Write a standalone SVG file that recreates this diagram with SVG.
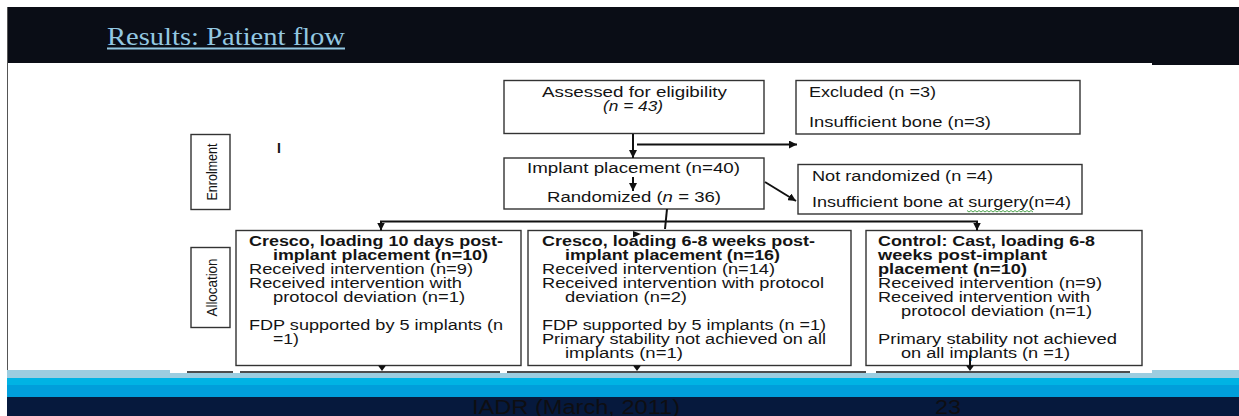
<svg xmlns="http://www.w3.org/2000/svg" width="1239" height="416" viewBox="0 0 1239 416">
<defs>
<style>
.t{font-family:"Liberation Sans",Arial,sans-serif;font-size:14px;fill:#141414}
.b{font-weight:bold}
.i{font-style:italic}
.box{fill:#fff;stroke:#333;stroke-width:1.4}
.lab{font-family:"Liberation Sans",Arial,sans-serif;font-size:15px;fill:#141414}
.c{stroke:#111;stroke-width:2;fill:none}
.h{fill:#111}
.ft{font-family:"Liberation Sans",Arial,sans-serif;font-size:20px;fill:#0e0e12}
</style>
<marker id="ah" viewBox="0 0 10 10" refX="10" refY="5" markerWidth="8" markerHeight="8" markerUnits="userSpaceOnUse" orient="auto">
<path d="M0,0 L10,5 L0,10 z" fill="#111"/>
</marker>
</defs>
<!-- slide background -->
<rect x="0" y="0" width="1239" height="416" fill="#fff"/>
<rect x="7" y="7" width="1232" height="56" fill="#0a0d16"/>
<rect x="1152" y="63" width="87" height="2" fill="#0a0d16"/>
<line x1="7.5" y1="7" x2="7.5" y2="416" stroke="#555" stroke-width="1"/>
<text x="107" y="45" font-family="Liberation Serif, serif" font-size="26" fill="#93c8e2" textLength="238" lengthAdjust="spacingAndGlyphs">Results: Patient flow</text>
<line x1="107" y1="48.5" x2="345" y2="48.5" stroke="#93c8e2" stroke-width="1.8"/>
<!-- bottom bands -->
<rect x="7" y="370" width="1232" height="8" fill="#9ccde0"/>
<rect x="170" y="360" width="982" height="13" fill="#fff"/>
<rect x="7" y="378" width="1232" height="7" fill="#00b3e4"/>
<rect x="7" y="385" width="1232" height="12" fill="#009edb"/>
<rect x="7" y="397" width="1232" height="19" fill="#06193d"/>
<text class="ft" x="472" y="414" textLength="208" lengthAdjust="spacingAndGlyphs">IADR (March, 2011)</text>
<text class="ft" x="935" y="414" textLength="26" lengthAdjust="spacingAndGlyphs">23</text>

<!-- stage labels -->
<g id="enrolment">
<rect class="box" x="191" y="134.5" width="39" height="75"/>
<text class="lab" transform="translate(216.5,172) rotate(-90)" text-anchor="middle" textLength="57" lengthAdjust="spacingAndGlyphs">Enrolment</text>
</g>
<g id="allocation">
<rect class="box" x="191" y="247.5" width="39" height="80"/>
<text class="lab" transform="translate(217,287.5) rotate(-90)" text-anchor="middle" textLength="58" lengthAdjust="spacingAndGlyphs">Allocation</text>
</g>
<g id="mark">
<text class="t b" x="277" y="153">I</text>
</g>

<g id="assessed">
<rect class="box" x="504" y="80.5" width="260" height="53"/>
<text class="t" x="542" y="97" textLength="185" lengthAdjust="spacingAndGlyphs">Assessed for eligibility</text>
<text class="t i" x="603" y="111" textLength="60" lengthAdjust="spacingAndGlyphs">(n = 43)</text>
</g>
<g id="excluded">
<rect class="box" x="796" y="80.5" width="284" height="53.5"/>
<text class="t" x="809" y="97" textLength="127" lengthAdjust="spacingAndGlyphs">Excluded (n =3)</text>
<text class="t" x="809" y="127" textLength="182" lengthAdjust="spacingAndGlyphs">Insufficient bone (n=3)</text>
</g>
<g id="implant">
<rect class="box" x="504" y="158" width="260" height="51"/>
<text class="t" x="527" y="173" textLength="213" lengthAdjust="spacingAndGlyphs">Implant placement (n=40)</text>
<text class="t" x="547" y="202" textLength="174" lengthAdjust="spacingAndGlyphs">Randomized (<tspan class="i">n</tspan> = 36)</text>
</g>
<g id="notrandomized">
<rect class="box" x="798" y="164.5" width="284" height="49.5"/>
<text class="t" x="812" y="181" textLength="181" lengthAdjust="spacingAndGlyphs">Not randomized (n =4)</text>
<text class="t" x="812" y="207" textLength="259" lengthAdjust="spacingAndGlyphs">Insufficient bone at surgery(n=4)</text>
<polyline points="967,210.5 969,212 971,210.5 973,212 975,210.5 977,212 979,210.5 981,212 983,210.5 985,212 987,210.5 989,212 991,210.5 993,212 995,210.5 997,212 999,210.5 1001,212 1003,210.5 1005,212 1007,210.5 1009,212 1011,210.5 1013,212 1015,210.5 1017,212 1019,210.5 1021,212 1023,210.5 1025,212 1027,210.5 1029,212 1031,210.5 1033,212" fill="none" stroke="#3a9a3a" stroke-width="0.9"/>
</g>

<g id="cresco10">
<rect class="box" x="236" y="230.5" width="285" height="135"/>
<text class="t b" x="249" y="246" textLength="254" lengthAdjust="spacingAndGlyphs">Cresco, loading 10 days post-</text>
<text class="t b" x="273" y="260" textLength="215" lengthAdjust="spacingAndGlyphs">implant placement (n=10)</text>
<text class="t" x="249" y="274" textLength="224" lengthAdjust="spacingAndGlyphs">Received intervention (n=9)</text>
<text class="t" x="249" y="288" textLength="213" lengthAdjust="spacingAndGlyphs">Received intervention with</text>
<text class="t" x="273" y="302" textLength="192" lengthAdjust="spacingAndGlyphs">protocol deviation (n=1)</text>
<text class="t" x="249" y="330" textLength="254" lengthAdjust="spacingAndGlyphs">FDP supported by 5 implants (n</text>
<text class="t" x="273" y="344" textLength="26" lengthAdjust="spacingAndGlyphs">=1)</text>
</g>
<g id="cresco68">
<rect class="box" x="528" y="230.5" width="323" height="135"/>
<text class="t b" x="542" y="246" textLength="273" lengthAdjust="spacingAndGlyphs">Cresco, loading 6-8 weeks post-</text>
<text class="t b" x="565" y="260" textLength="215" lengthAdjust="spacingAndGlyphs">implant placement (n=16)</text>
<text class="t" x="542" y="274" textLength="233" lengthAdjust="spacingAndGlyphs">Received intervention (n=14)</text>
<text class="t" x="542" y="288" textLength="282" lengthAdjust="spacingAndGlyphs">Received intervention with protocol</text>
<text class="t" x="565" y="302" textLength="122" lengthAdjust="spacingAndGlyphs">deviation (n=2)</text>
<text class="t" x="542" y="330" textLength="284" lengthAdjust="spacingAndGlyphs">FDP supported by 5 implants (n =1)</text>
<text class="t" x="542" y="344" textLength="284" lengthAdjust="spacingAndGlyphs">Primary stability not achieved on all</text>
<text class="t" x="565" y="358" textLength="118" lengthAdjust="spacingAndGlyphs">implants (n=1)</text>
</g>
<g id="control">
<rect class="box" x="866" y="230.5" width="276" height="135"/>
<text class="t b" x="878" y="246" textLength="217" lengthAdjust="spacingAndGlyphs">Control: Cast, loading 6-8</text>
<text class="t b" x="878" y="260" textLength="169" lengthAdjust="spacingAndGlyphs">weeks post-implant</text>
<text class="t b" x="878" y="274" textLength="149" lengthAdjust="spacingAndGlyphs">placement (n=10)</text>
<text class="t" x="878" y="288" textLength="224" lengthAdjust="spacingAndGlyphs">Received intervention (n=9)</text>
<text class="t" x="878" y="302" textLength="212" lengthAdjust="spacingAndGlyphs">Received intervention with</text>
<text class="t" x="901" y="316" textLength="191" lengthAdjust="spacingAndGlyphs">protocol deviation (n=1)</text>
<text class="t" x="878" y="344" textLength="239" lengthAdjust="spacingAndGlyphs">Primary stability not achieved</text>
<text class="t" x="901" y="358" textLength="169" lengthAdjust="spacingAndGlyphs">on all implants (n =1)</text>
</g>

<g id="connectors">
<line class="c" x1="633" y1="134" x2="633" y2="158" marker-end="url(#ah)"/>
<line class="c" x1="637" y1="144.5" x2="797" y2="144.5" marker-end="url(#ah)"/>
<line class="c" x1="633" y1="177" x2="633" y2="191" marker-end="url(#ah)"/>
<line class="c" x1="765" y1="182" x2="796" y2="201" marker-end="url(#ah)"/>
<line class="c" x1="667" y1="209" x2="665" y2="229"/>
<line class="c" x1="380" y1="221.5" x2="978" y2="221.5"/>
<line class="c" x1="381" y1="221" x2="381" y2="230.5" marker-end="url(#ah)"/>
<line class="c" x1="977" y1="221" x2="977" y2="230.5" marker-end="url(#ah)"/>
<polygon class="h" points="633,231 641,234 633,237.5"/>
<polygon class="h" points="378,365.5 386,365.5 382,371"/>
<polygon class="h" points="633,365.5 641,365.5 637,371"/>
<line class="c" x1="970" y1="355" x2="970" y2="366"/>
<polygon class="h" points="966,365.5 974,365.5 970,371"/>
<g stroke="#111" stroke-width="1.4">
<line x1="187" y1="372" x2="233" y2="372"/>
<line x1="240" y1="372" x2="500" y2="372"/>
<line x1="507" y1="372" x2="866" y2="372"/>
<line x1="876" y1="372" x2="1130" y2="372"/>
</g>
</g>
</svg>
